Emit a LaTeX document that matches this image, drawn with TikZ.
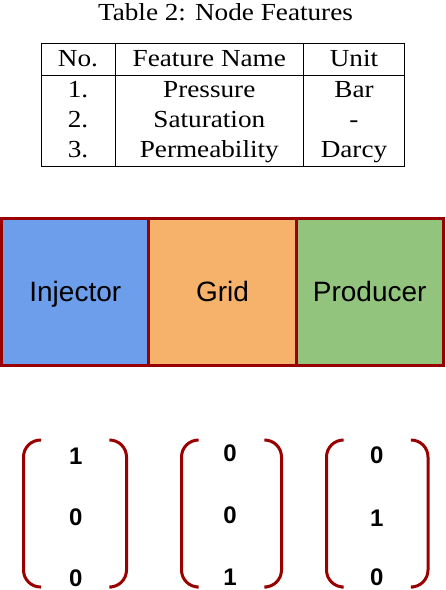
\documentclass[tikz,border=0pt]{standalone}
\usepackage{fontspec}
\setmainfont{Liberation Serif}
\setsansfont{Liberation Sans}
\definecolor{frame}{HTML}{990000}
\definecolor{injc}{HTML}{6D9EEB}
\definecolor{gridc}{HTML}{F6B26B}
\definecolor{prodc}{HTML}{93C47D}
\tikzset{
  serif/.style={anchor=base, inner sep=0pt, font=\fontsize{24.5}{28}\selectfont},
  cell/.style={draw=frame, line width=3pt, minimum width=147.2pt, minimum height=146.7pt, inner sep=0pt, anchor=center, text height=20pt, text depth=0pt, font=\sffamily\fontsize{28}{32}\selectfont},
  digit/.style={inner sep=0pt, anchor=center, text height=17pt, text depth=0pt, font=\sffamily\bfseries\fontsize{24}{27}\selectfont},
  paren/.style={draw=frame, line width=3pt, rounded corners=17pt},
  rule/.style={line width=1pt}
}
\newcommand{\wide}[1]{\scalebox{1.11}[1]{#1}}
\begin{document}
\begin{tikzpicture}[x=1pt,y=-1pt]
\useasboundingbox (0,0) rectangle (446,590);
% caption
\node[serif] (cap) at (225.5,20.7) {\wide{Table 2: Node Features}};
% table rules
\coordinate (tl) at (41,43.3);
\coordinate (br) at (404,166.7);
\draw[rule] (tl) rectangle (br);
\coordinate (h1) at (41,75);
\coordinate (h2) at (404,75);
\draw[rule] (h1) -- (h2);
\coordinate (c1t) at (115,43.3);
\coordinate (c1b) at (115,166.7);
\coordinate (c2t) at (303.7,43.3);
\coordinate (c2b) at (303.7,166.7);
\draw[rule] (c1t) -- (c1b);
\draw[rule] (c2t) -- (c2b);
% header
\node[serif] (hno) at (78,66.7) {\wide{No.}};
\node[serif] (hfn) at (209.3,66.7) {\wide{Feature Name}};
\node[serif] (hun) at (354,66.7) {\wide{Unit}};
% rows
\node[serif] (n1) at (78,97.7) {\wide{1.}};
\node[serif] (f1) at (209.3,97.7) {\wide{Pressure}};
\node[serif] (u1) at (354,97.7) {\wide{Bar}};
\node[serif] (n2) at (78,127.7) {\wide{2.}};
\node[serif] (f2) at (209.3,127.7) {\wide{Saturation}};
\node[serif] (u2) at (354,127.7) {\wide{-}};
\node[serif] (n3) at (78,157.7) {\wide{3.}};
\node[serif] (f3) at (209.3,157.7) {\wide{Permeability}};
\node[serif] (u3) at (354,157.7) {\wide{Darcy}};
% boxes
\node[cell, fill=injc] (inj) at (75.3,291.7) {Injector};
\node[cell, fill=gridc] (grid) at (222.5,291.7) {Grid};
\node[cell, fill=prodc] (prod) at (369.7,291.7) {Producer};
% vector 1
\draw[paren] (41,440) -- (23.5,440) -- (23.5,587) -- (41,587);
\draw[paren] (111.7,440) -- (126.5,440) -- (126.5,587) -- (111.7,587);
\node[digit] (a1) at (75.8,456) {1};
\node[digit] (a2) at (75.8,516.7) {0};
\node[digit] (a3) at (75.8,577.5) {0};
% vector 2
\draw[paren] (196.7,440) -- (181.5,440) -- (181.5,587) -- (196.7,587);
\draw[paren] (266.7,440) -- (281.5,440) -- (281.5,587) -- (266.7,587);
\node[digit] (b1) at (230,453.3) {0};
\node[digit] (b2) at (230,515) {0};
\node[digit] (b3) at (230,576.5) {1};
% vector 3
\draw[paren] (341.7,440) -- (326.5,440) -- (326.5,587) -- (341.7,587);
\draw[paren] (413.3,440) -- (428,440) -- (428,587) -- (413.3,587);
\node[digit] (d1) at (376.7,455) {0};
\node[digit] (d2) at (376.7,518.3) {1};
\node[digit] (d3) at (376.7,576.5) {0};
\end{tikzpicture}
\end{document}
